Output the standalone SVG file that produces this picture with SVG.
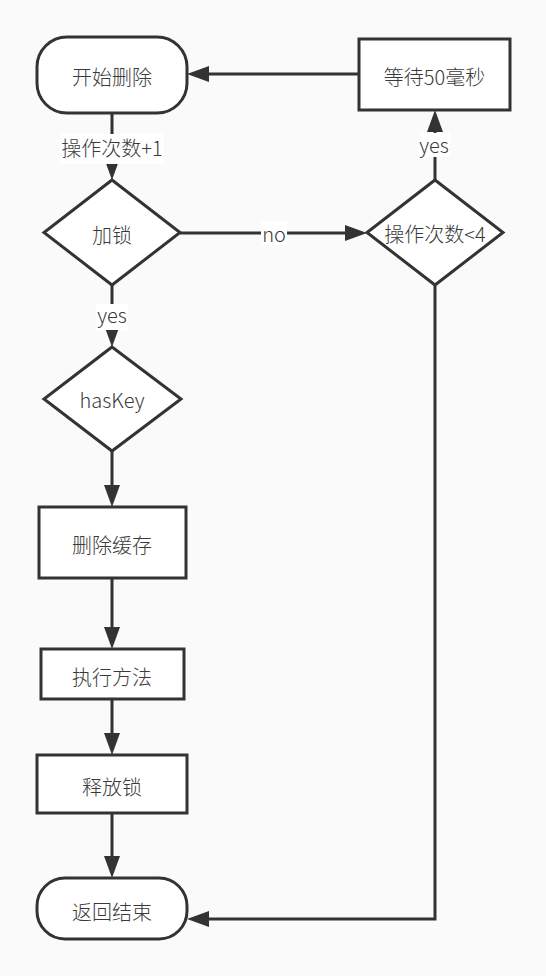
<svg xmlns="http://www.w3.org/2000/svg" width="546" height="976" viewBox="0 0 546 976">
<style>
.bg{fill:#fafafa}
.node{fill:#ffffff;stroke:#333333;stroke-width:3}
.edge{fill:none;stroke:#333333;stroke-width:3}
.t{font-family:"Noto Sans CJK SC","Noto Sans",sans-serif;font-size:20px;font-weight:300;fill:#3a3a3a;text-anchor:middle}
.lbg{fill:#ffffff}
</style>
<defs>
<marker id="arr" viewBox="0 0 22 16" refX="12" refY="8" markerWidth="22" markerHeight="16" markerUnits="userSpaceOnUse" orient="auto">
<path d="M0,0 L22,8 L0,16 z" fill="#333333"/>
</marker>
</defs>
<rect class="bg" x="0" y="0" width="546" height="976"/>
<g id="connectors">
<path class="edge" d="M359,74 L197,74" marker-end="url(#arr)"/>
<path class="edge" d="M112,113 L112,170" marker-end="url(#arr)"/>
<path class="edge" d="M180,233 L357,233" marker-end="url(#arr)"/>
<path class="edge" d="M435,180 L435,120" marker-end="url(#arr)"/>
<path class="edge" d="M112,285 L112,337" marker-end="url(#arr)"/>
<path class="edge" d="M112,451 L112,497" marker-end="url(#arr)"/>
<path class="edge" d="M112,578 L112,639" marker-end="url(#arr)"/>
<path class="edge" d="M112,699 L112,745" marker-end="url(#arr)"/>
<path class="edge" d="M112,813 L112,868" marker-end="url(#arr)"/>
<path class="edge" d="M435,285 L435,919 L197,919" marker-end="url(#arr)"/>
<rect class="lbg" x="60" y="134" width="104" height="30"/>
<text class="t" x="112" y="156">操作次数+1</text>
<rect class="lbg" x="261" y="221" width="26" height="24"/>
<text class="t" x="274" y="242">no</text>
<rect class="lbg" x="419" y="133" width="31" height="24"/>
<text class="t" x="434" y="153">yes</text>
<rect class="lbg" x="96" y="304" width="32" height="26"/>
<text class="t" x="112" y="323">yes</text>
</g>
<g id="start">
<rect class="node" x="37" y="37" width="150" height="76" rx="30" ry="30"/>
<text class="t" x="112" y="85">开始删除</text>
</g>
<g id="wait">
<rect class="node" x="359" y="39" width="151" height="71"/>
<text class="t" x="434.5" y="85">等待50毫秒</text>
</g>
<g id="lock">
<polygon class="node" points="112,180 180,232.5 112,285 44,232.5"/>
<text class="t" x="112" y="243">加锁</text>
</g>
<g id="count">
<polygon class="node" points="435,180 503,232.5 435,285 367,232.5"/>
<text class="t" x="435" y="242">操作次数&lt;4</text>
</g>
<g id="haskey">
<polygon class="node" points="112,347 181,399 112,451 44,399"/>
<text class="t" x="112" y="408">hasKey</text>
</g>
<g id="delcache">
<rect class="node" x="39" y="507" width="147" height="71"/>
<text class="t" x="112" y="553">删除缓存</text>
</g>
<g id="exec">
<rect class="node" x="41" y="649" width="143" height="50"/>
<text class="t" x="112" y="685">执行方法</text>
</g>
<g id="release">
<rect class="node" x="37" y="755" width="150" height="58"/>
<text class="t" x="112" y="795">释放锁</text>
</g>
<g id="end">
<rect class="node" x="37" y="878" width="150" height="61" rx="28" ry="28"/>
<text class="t" x="112" y="920">返回结束</text>
</g>
</svg>
